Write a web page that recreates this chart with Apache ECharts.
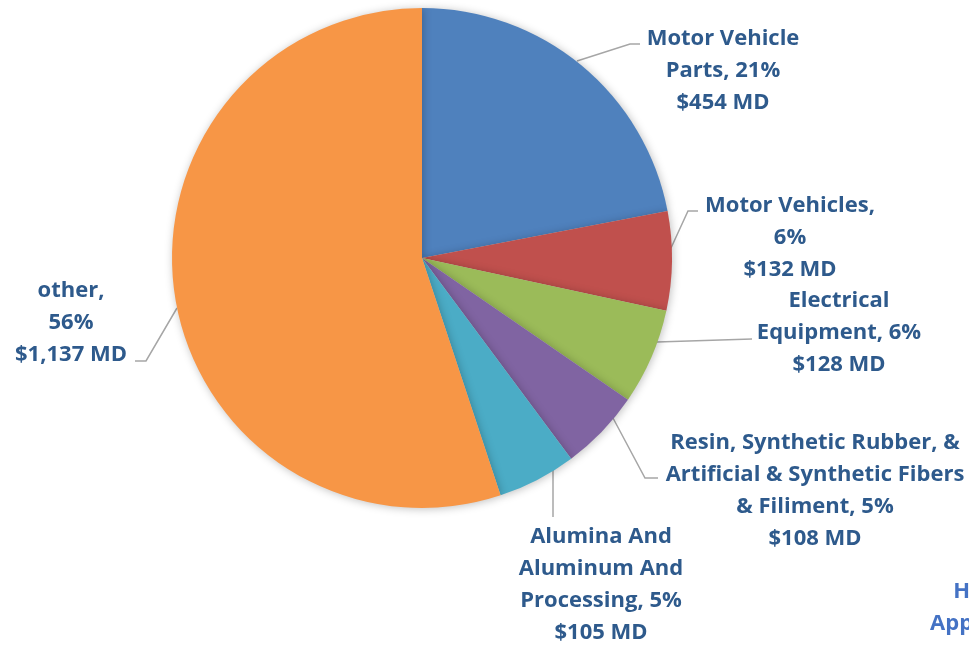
<!DOCTYPE html>
<html>
<head>
<meta charset="utf-8">
<script src="https://cdn.jsdelivr.net/npm/echarts@6/dist/echarts.min.js"></script>
<style>html,body{margin:0;padding:0;background:#fff;}#c{width:969px;height:645px;}</style>
</head>
<body>
<div id="c"></div>
<script>
// Data
var categories = ['Motor Vehicle Parts', 'Motor Vehicles', 'Electrical Equipment',
  'Resin, Synthetic Rubber, & Artificial & Synthetic Fibers & Filiment',
  'Alumina And Aluminum And Processing', 'other'];
var labelNames = ['Motor Vehicle\nParts', 'Motor Vehicles,\n', 'Electrical\nEquipment',
  'Resin, Synthetic Rubber, &\nArtificial & Synthetic Fibers\n& Filiment',
  'Alumina And\nAluminum And\nProcessing', 'other,\n'];
var values = [454, 132, 128, 108, 105, 1137];
var percents = [21, 6, 6, 5, 5, 56];
var colors = ['#4F81BD', '#C0504D', '#9BBB59', '#8064A2', '#4BACC6', '#F79646'];

// label layout (positions of text blocks and leader lines)
var labelPos = [
  {x: 723, y: 71, line: [[577, 61], [630, 44], [640, 44]]},
  {x: 790, y: 238, line: [[671, 248], [688, 211], [698, 211]]},
  {x: 839, y: 333, line: [[657, 342], [752, 339]]},
  {x: 815, y: 491, line: [[613, 418], [645, 478], [658, 478]]},
  {x: 601, y: 585, line: [[553, 470], [553, 517]]},
  {x: 71, y: 323, line: [[177, 308], [146, 361], [135, 361]]}
];

var data = categories.map(function (c, i) {
  return {name: c, value: values[i], itemStyle: {color: colors[i]}};
});

var chart = echarts.init(document.getElementById('c'));
chart.setOption({
  animation: false,
  series: [{
    type: 'pie',
    center: [422, 258],
    radius: [0, 250],
    startAngle: 90,
    clockwise: true,
    data: data,
    itemStyle: {
      borderWidth: 0,
      shadowBlur: 8,
      shadowColor: 'rgba(0,0,0,0.25)',
      shadowOffsetX: 1,
      shadowOffsetY: 1
    },
    label: {
      show: true,
      formatter: function (p) {
        var i = p.dataIndex;
        var n = labelNames[i];
        var sep = n.charAt(n.length - 1) === '\n' ? '' : ', ';
        return n + sep + percents[i] + '%\n$' + values[i].toLocaleString('en-US') + ' MD';
      },
      fontFamily: 'Open Sans',
      fontWeight: 'bold',
      fontSize: 22,
      lineHeight: 32,
      color: '#2E5A8C',
      align: 'center',
      overflow: 'none',
      width: 400
    },
    labelLine: {
      show: true,
      lineStyle: {color: '#A6A6A6', width: 1.5}
    },
    labelLayout: function (params) {
      var lp = labelPos[params.dataIndex];
      return {
        x: lp.x,
        y: lp.y,
        align: 'center',
        verticalAlign: 'middle',
        labelLinePoints: lp.line
      };
    }
  }],
  graphic: [{
    type: 'text',
    x: 1012,
    y: 576,
    style: {
      text: 'Household\nAppliances, 1%\n$30 MD',
      font: 'bold 22px "Open Sans"',
      lineHeight: 32,
      fill: '#4472C4',
      align: 'center',
      verticalAlign: 'top'
    }
  }]
});
</script>
</body>
</html>
